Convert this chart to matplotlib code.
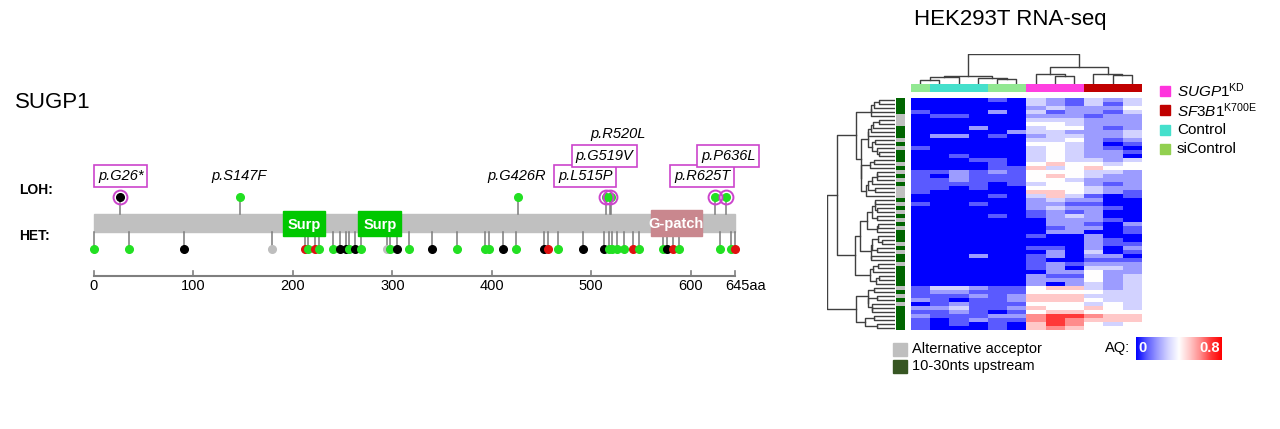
import numpy as np
import matplotlib
matplotlib.use('Agg')
import matplotlib.pyplot as plt
from matplotlib.patches import Rectangle
from matplotlib.colors import LinearSegmentedColormap, to_rgb
import matplotlib.transforms as mtrans

plt.rcParams['font.family'] = ['Liberation Sans', 'DejaVu Sans']
plt.rcParams['mathtext.fontset'] = 'custom'
plt.rcParams['mathtext.rm'] = 'Liberation Sans'
plt.rcParams['mathtext.it'] = 'Liberation Sans:italic'

# ---------------- data: lollipop ----------------
protein_length = 645
axis_ticks = [0, 100, 200, 300, 400, 500, 600, 645]
domain_names = ['Surp', 'Surp', 'G-patch']
domain_start = [190, 266, 560]
domain_end = [232, 309, 611]

loh_pos = [26, 147, 426, 515, 519, 520, 625, 636]
loh_kind = ['k', 'g', 'g', 'g', 'g', 'g', 'g', 'g']
loh_labels = ['p.G26*', 'p.S147F', 'p.G426R', 'p.L515P', 'p.G519V', 'p.R520L', 'p.R625T', 'p.P636L']
loh_boxed = [True, False, False, True, True, False, True, True]

het_pos = [0, 35, 91, 179, 212, 215, 222, 226, 240, 247, 253, 256, 262, 269, 295, 298,
           305, 317, 340, 365, 393, 397, 411, 424, 453, 457, 467, 492, 513, 518, 521,
           526, 533, 542, 548, 572, 576, 582, 588, 630, 641, 645]
het_kind = ['g', 'g', 'k', 'a', 'r', 'g', 'r', 'g', 'g', 'k', 'k', 'g', 'k', 'g', 'a', 'g',
            'k', 'g', 'k', 'g', 'g', 'g', 'k', 'g', 'k', 'r', 'g', 'k', 'k', 'g', 'g',
            'g', 'g', 'r', 'g', 'g', 'k', 'r', 'g', 'g', 'g', 'r']

# ---------------- data: heatmap (AQ in tenths) ----------------
col_groups = ['siControl', 'Control', 'Control', 'Control', 'siControl', 'siControl',
              'SUGP1KD', 'SUGP1KD', 'SUGP1KD', 'SF3B1', 'SF3B1', 'SF3B1']
aq_rows = [
    '000010321323', '000000321313', '000000232224', '100020312213', '011000222122',
    '000000333222', '000000443222', '000200344212', '000002332223', '022010233223',
    '000000334212', '000000443201', '100000343210', '000000343221', '001000343220',
    '000110343323', '000010454434', '000011534544', '112121444332', '102111454322',
    '112111443222', '111101344212', '110100444322', '100000554321', '000010353101',
    '000000232200', '100100221100', '000000232210', '000000121200', '000010123200',
    '000000022210', '000000022102', '000000012201', '000000022001', '000000100200',
    '000000000210', '000000000211', '000000110202', '000000020301', '000200120220',
    '000000100111', '000000121222', '000000120332', '000000022422', '000000211423',
    '000000222423', '000000202323', '133211455323', '122111444433', '111212555333',
    '210112555433', '012111444343', '223112544543', '112101455444', '211122677655',
    '101211676555', '101010576434', '100010565444',
]
row_class = 'GGGGAAAGGGAGAGGGAGAGAGAAAGAGAGAGAGGGAGAGGAGGGGGAGAGAGGGGGG'

# column dendrogram (linkage: left id, right id, height)
col_linkage = [(0, 1, 12), (12, 2, 20), (4, 5, 15), (3, 14, 18), (13, 15, 22),
               (7, 8, 22), (6, 17, 30), (10, 11, 25), (9, 19, 30), (18, 20, 48), (16, 21, 85)]

# ---------------- styles ----------------
W, H = 1280, 429
kind_colors = {'g': '#22E022', 'k': '#000000', 'r': '#E01010', 'a': '#BEBEBE'}
domain_colors = ['#00C800', '#00C800', '#C9878E']
group_colors = {'siControl': '#92E892', 'Control': '#45E0CC', 'SUGP1KD': '#FF40E0', 'SF3B1': '#C00000'}
class_colors = {'G': '#006400', 'A': '#C0C0C0'}
box_color = '#CC44CC'

fig = plt.figure(figsize=(12.8, 4.29), dpi=100)


def fx(px):
    return px / W


def fy(py):
    return 1 - py / H


def ax_px(x0, y0, x1, y1):
    return fig.add_axes([x0 / W, 1 - y1 / H, (x1 - x0) / W, (y1 - y0) / H])


def aa_of(px):
    return (px - 94) / 0.9943


# ---------------- left: lollipop ----------------
axL = fig.add_axes([0, 0, 780 / W, 1])
axL.set_xlim(aa_of(0), aa_of(780))
axL.set_ylim(H, 0)
axL.axis('off')

bar_top, bar_bot = 214, 232
loh_y, het_y = 197, 249
axL.add_patch(Rectangle((0, bar_top), protein_length, bar_bot - bar_top, color='#C0C0C0', zorder=1))

# HET stems and dots
for p, k in zip(het_pos, het_kind):
    axL.plot([p, p], [bar_bot, het_y], color='#7A7A7A', lw=1.1, zorder=2)
for p, k in zip(het_pos, het_kind):
    axL.plot(p, het_y, 'o', ms=5.5, color=kind_colors[k], mec=kind_colors[k], zorder=4)

# LOH stems and dots
for p, k in zip(loh_pos, loh_kind):
    axL.plot([p, p], [bar_top, loh_y], color='#7A7A7A', lw=1.1, zorder=2)
    axL.plot(p, loh_y, 'o', ms=5.5, color=kind_colors[k], mec=kind_colors[k], zorder=4)
for p, b in zip(loh_pos, loh_boxed):
    if b:
        axL.plot(p, loh_y, 'o', ms=10, mfc='none', mec=box_color, mew=1.4, zorder=5)

# domains
for name, s, e, c in zip(domain_names, domain_start, domain_end, domain_colors):
    y0, y1 = (211, 236) if name == 'Surp' else (210, 236)
    axL.add_patch(Rectangle((s, y0), e - s, y1 - y0, color=c, zorder=6))
    axL.text((s + e) / 2, (y0 + y1) / 2 + 1, name, color='white', fontsize=10.5,
             fontweight='bold', ha='center', va='center', zorder=7)

# labels (layout positions)
label_x = [27, 146, 425, 494, 513, 527, 611.5, 638]
label_row = [0, 0, 0, 0, 1, 2, 0, 1]
row_y = {0: 176, 1: 156, 2: 134}
for lab, b, lx, r in zip(loh_labels, loh_boxed, label_x, label_row):
    kw = {}
    if b:
        kw['bbox'] = dict(boxstyle='square,pad=0.25', fc='white', ec=box_color, lw=1.2)
    axL.text(lx, row_y[r], lab, fontsize=10.5, style='italic', ha='center', va='center', **kw)

# axis
axis_y = 276
axL.plot([0, protein_length], [axis_y, axis_y], color='#7F7F7F', lw=1.5)
for t in axis_ticks:
    axL.plot([t, t], [axis_y, axis_y - 5], color='#7F7F7F', lw=1.2)
    if t == protein_length:
        tr = mtrans.offset_copy(axL.transData, fig=fig, x=-10, y=0, units='dots')
        axL.text(t, 286, f'{t}aa', fontsize=10.5, ha='left', va='center', transform=tr)
    else:
        axL.text(t, 286, str(t), fontsize=10.5, ha='center', va='center')

fig.text(fx(15), fy(103), 'SUGP1', fontsize=16, ha='left', va='center')
fig.text(fx(19), fy(190), 'LOH:', fontsize=10, fontweight='bold', ha='left', va='center')
fig.text(fx(19), fy(236), 'HET:', fontsize=10, fontweight='bold', ha='left', va='center')

# ---------------- right: heatmap ----------------
aq = np.array([[int(c) / 10 for c in row] for row in aq_rows])
nrow, ncol = aq.shape
cmap = LinearSegmentedColormap.from_list('bwr_aq', [
    (0.0, '#0000FF'), (0.125, '#5A5AFF'), (0.25, '#9C9CFF'), (0.375, '#D4D4FF'),
    (0.5, '#FFFFFF'), (0.625, '#FFCACA'), (0.75, '#FF8C8C'), (0.875, '#FF3838'), (1.0, '#FF0000')])

hx0, hx1, hy0, hy1 = 910.5, 1141.5, 98, 330
axH = ax_px(hx0, hy0, hx1, hy1)
axH.imshow(aq, cmap=cmap, vmin=0, vmax=0.8, aspect='auto', interpolation='nearest')
axH.axis('off')

# column annotation
axC = ax_px(hx0, 84, hx1, 92.5)
axC.imshow(np.array([[to_rgb(group_colors[g]) for g in col_groups]]), aspect='auto', interpolation='nearest')
axC.axis('off')

# row annotation
axR = ax_px(896, hy0, 905, hy1)
axR.imshow(np.array([[to_rgb(class_colors[c])] for c in row_class]), aspect='auto', interpolation='nearest')
axR.axis('off')

# column dendrogram
axCD = ax_px(hx0, 54, hx1, 84)
axCD.set_xlim(-0.5, ncol - 0.5)
axCD.set_ylim(0, 86)
axCD.axis('off')
nodes = {i: (float(i), 0.0) for i in range(ncol)}
for k, (a, b, h) in enumerate(col_linkage):
    pa, ha = nodes[a]
    pb, hb = nodes[b]
    axCD.plot([pa, pa, pb, pb], [ha, h, h, hb], color='#404040', lw=1)
    nodes[ncol + k] = ((pa + pb) / 2, h)


# row dendrogram: adjacency-constrained Ward clustering of the rows
def constrained_ward(X):
    cl = [dict(pos=float(i), h=0.0, c=X[i].astype(float), n=1) for i in range(len(X))]
    segs = []
    while len(cl) > 1:
        best, bk = None, 0
        for k in range(len(cl) - 1):
            a, b = cl[k], cl[k + 1]
            d = np.sqrt(2 * a['n'] * b['n'] / (a['n'] + b['n'])) * np.linalg.norm(a['c'] - b['c'])
            if best is None or d < best:
                best, bk = d, k
        a, b = cl[bk], cl[bk + 1]
        h = max(best, a['h'], b['h'])
        segs.append((a['pos'], a['h'], b['pos'], b['h'], h))
        n = a['n'] + b['n']
        cl[bk:bk + 2] = [dict(pos=(a['pos'] + b['pos']) / 2, h=h,
                              c=(a['n'] * a['c'] + b['n'] * b['c']) / n, n=n)]
    return segs, cl[0]['h']


segs, hroot = constrained_ward(aq)
axRD = ax_px(827, hy0, 895, hy1)
axRD.set_ylim(nrow - 0.5, -0.5)
axRD.set_xlim(np.sqrt(hroot), 0)
axRD.axis('off')
for pa, ha, pb, hb, h in segs:
    axRD.plot(np.sqrt([ha, h, h, hb]), [pa, pa, pb, pb], color='#404040', lw=1)

fig.text(fx(1010), fy(20), 'HEK293T RNA-seq', fontsize=16, ha='center', va='center')

# group legend
leg_labels = [r'$\mathit{SUGP1}^{\mathrm{KD}}$', r'$\mathit{SF3B1}^{\mathrm{K700E}}$', 'Control', 'siControl']
leg_colors = ['#FF33DD', '#C00000', '#45E0CC', '#92D050']
for i, (lab, c) in enumerate(zip(leg_labels, leg_colors)):
    yc = 91 + 19.3 * i
    fig.patches.append(Rectangle((fx(1160), fy(yc + 5)), 10 / W, 10 / H, color=c, transform=fig.transFigure))
    fig.text(fx(1177), fy(yc), lab, fontsize=11, ha='left', va='center')

# row-class legend
for i, (lab, c) in enumerate(zip(['Alternative acceptor', '10-30nts upstream'], ['#BFBFBF', '#375623'])):
    yc = 349 + 17 * i
    fig.patches.append(Rectangle((fx(893), fy(yc + 6.5)), 14 / W, 13 / H, color=c, transform=fig.transFigure))
    fig.text(fx(912), fy(yc), lab, fontsize=10.5, ha='left', va='center')

# AQ colour key
fig.text(fx(1130), fy(348), 'AQ:', fontsize=10.5, ha='right', va='center')
axK = ax_px(1136, 337, 1222, 360)
axK.imshow(np.linspace(0, 0.8, 256)[None, :], cmap=cmap, vmin=0, vmax=0.8, aspect='auto',
           extent=[0, 0.8, 0, 1])
axK.text(0.02, 0.5, '0', color='white', fontsize=10.5, fontweight='bold', ha='left', va='center')
axK.text(0.78, 0.5, '0.8', color='white', fontsize=10.5, fontweight='bold', ha='right', va='center')
axK.axis('off')

fig.savefig('out.png', dpi=100)
